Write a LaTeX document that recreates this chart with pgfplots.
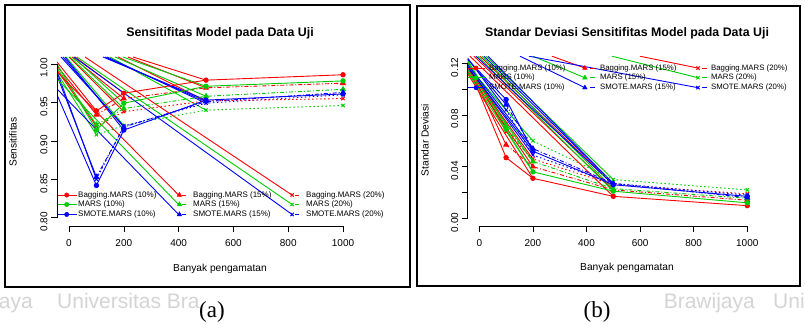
\documentclass[border=0pt]{standalone}
\usepackage{pgfplots}
\pgfplotsset{compat=1.18}
\usepackage{fontspec}
\setmainfont{Liberation Sans}
\newfontfamily\capfont{Liberation Serif}
\definecolor{rred}{RGB}{255,0,0}
\definecolor{rgreen}{RGB}{0,205,0}
\definecolor{rblue}{RGB}{0,0,255}
\pgfplotsset{
  s10/.style={solid, line width=0.9pt, mark=*, mark size=2.2pt},
  s15/.style={line width=0.9pt, dash pattern=on 4pt off 2pt on 1pt off 2pt, mark=triangle*, mark size=2.7pt, mark options={solid}},
  s20/.style={line width=0.9pt, dash pattern=on 1.5pt off 2.5pt, mark=x, mark size=2.3pt, mark options={solid, line width=1pt}},
  diag/.style={solid, line width=0.9pt, no marks},
  rstyle/.style={scale only axis, anchor=south west, clip mode=individual,
    axis line style={draw=none}, tick align=outside, major tick length=6pt,
    tick style={black, line width=0.6pt}, xtick pos=bottom, ytick pos=left,
    xtick={0,200,400,600,800,1000}, xticklabels={0,200,400,600,800,1000},
    xticklabel style={font=\fontsize{10}{12}\selectfont, yshift=-4pt},
    yticklabel style={font=\fontsize{10}{12}\selectfont, rotate=90, anchor=south, xshift=-4pt},
    minor tick num=0},
}
\newcommand{\seg}[5]{\addplot[diag,#1] coordinates {(#2,#3)(#4,#5)};}
\begin{document}
\begin{tikzpicture}[x=1pt,y=1pt]
\path[use as bounding box] (0,0) rectangle (805,324);
% watermark
\begin{scope}[every node/.style={text=black!17, font=\fontsize{21}{21}\selectfont, inner sep=0}]
\node[anchor=base east] at (33,16) {aya};
\node[anchor=base west] at (57,16) {Universitas Bra};
\node[anchor=base east] at (755,16) {Brawijaya};
\node[anchor=base west] at (773,16) {Uni};
\end{scope}

% ---------------- panel (a)
\begin{axis}[rstyle, at={(57pt,98pt)}, width=297pt, height=169pt,
  xmin=-43.8, xmax=1040, ymin=0.7892, ymax=1.0091,
  ytick={0.80,0.85,0.90,0.95,1.00}, yticklabels={0.80,0.85,0.90,0.95,1.00}]
% artefact lines to the points at 100
\seg{rred}{-43.8}{1.0026}{100}{0.939}
\seg{rred}{-43.8}{0.9974}{100}{0.934}
\seg{rred}{-43.8}{0.9922}{100}{0.919}
\seg{rgreen}{-43.8}{1.000}{100}{0.914}
\seg{rgreen}{-43.8}{0.9948}{100}{0.921}
\seg{rgreen}{-43.8}{0.9883}{100}{0.908}
\seg{rblue}{-43.8}{0.960}{100}{0.842}
\seg{rblue}{-43.8}{0.985}{100}{0.853}
\seg{rblue}{-43.8}{0.990}{100}{0.850}
% to the points at 200
\seg{rred}{21.9}{1.0091}{200}{0.962}
\seg{rred}{10.9}{1.0091}{200}{0.955}
\seg{rred}{0}{1.0091}{200}{0.938}
\seg{rgreen}{14.6}{1.0091}{200}{0.949}
\seg{rgreen}{3.6}{1.0091}{200}{0.942}
\seg{rgreen}{-11}{1.0091}{200}{0.920}
\seg{rblue}{-14.6}{1.0091}{200}{0.914}
\seg{rblue}{-21.9}{1.0091}{200}{0.918}
\seg{rblue}{-29.2}{1.0091}{200}{0.919}
% to the points at 500
\seg{rred}{233.6}{1.0091}{500}{0.979}
\seg{rred}{215}{1.0091}{500}{0.969}
\seg{rred}{179}{1.0091}{500}{0.952}
\seg{rgreen}{197}{1.0091}{500}{0.971}
\seg{rgreen}{168}{1.0091}{500}{0.958}
\seg{rgreen}{150}{1.0091}{500}{0.940}
\seg{rblue}{124}{1.0091}{500}{0.953}
\seg{rblue}{131}{1.0091}{500}{0.951}
\seg{rblue}{139}{1.0091}{500}{0.949}
% to the legend
\seg{rred}{-43.8}{0.9896}{400}{0.8295}
\seg{rgreen}{-43.8}{0.9805}{400}{0.8172}
\seg{rblue}{-43.8}{0.9675}{400}{0.8042}
\seg{rred}{58.4}{1.0091}{814}{0.8295}
\seg{rgreen}{29.2}{1.0091}{814}{0.8172}
\seg{rblue}{18.2}{1.0091}{814}{0.8042}
% series
\addplot[rred,s10] coordinates {(100,0.939)(200,0.962)(500,0.979)(1000,0.986)};
\addplot[rred,s15] coordinates {(100,0.934)(200,0.955)(500,0.969)(1000,0.975)};
\addplot[rred,s20] coordinates {(100,0.919)(200,0.938)(500,0.952)(1000,0.955)};
\addplot[rgreen,s10] coordinates {(100,0.914)(200,0.949)(500,0.971)(1000,0.978)};
\addplot[rgreen,s15] coordinates {(100,0.921)(200,0.942)(500,0.958)(1000,0.967)};
\addplot[rgreen,s20] coordinates {(100,0.908)(200,0.920)(500,0.940)(1000,0.946)};
\addplot[rblue,s10] coordinates {(100,0.842)(200,0.914)(500,0.953)(1000,0.961)};
\addplot[rblue,s15] coordinates {(100,0.853)(200,0.918)(500,0.951)(1000,0.963)};
\addplot[rblue,s20] coordinates {(100,0.850)(200,0.919)(500,0.949)(1000,0.960)};
% legend
\addplot[rred,diag] coordinates {(-40,0.8295)(29,0.8295)};
\addplot[rgreen,diag] coordinates {(-40,0.8172)(29,0.8172)};
\addplot[rblue,diag] coordinates {(-40,0.8042)(29,0.8042)};
\addplot[rred,only marks,mark=*,mark size=2.2pt] coordinates {(-8.4,0.8295)};
\addplot[rgreen,only marks,mark=*,mark size=2.2pt] coordinates {(-8.4,0.8172)};
\addplot[rblue,only marks,mark=*,mark size=2.2pt] coordinates {(-8.4,0.8042)};
\addplot[rred,only marks,mark=triangle*,mark size=2.7pt] coordinates {(403,0.8295)};
\addplot[rgreen,only marks,mark=triangle*,mark size=2.7pt] coordinates {(403,0.8172)};
\addplot[rblue,only marks,mark=triangle*,mark size=2.7pt] coordinates {(403,0.8042)};
\addplot[rred,diag] coordinates {(414,0.8295)(427,0.8295)};
\addplot[rgreen,diag] coordinates {(414,0.8172)(427,0.8172)};
\addplot[rblue,diag] coordinates {(414,0.8042)(427,0.8042)};
\addplot[rred,only marks,mark=x,mark size=2.3pt,mark options={line width=1pt}] coordinates {(814,0.8295)};
\addplot[rgreen,only marks,mark=x,mark size=2.3pt,mark options={line width=1pt}] coordinates {(814,0.8172)};
\addplot[rblue,only marks,mark=x,mark size=2.3pt,mark options={line width=1pt}] coordinates {(814,0.8042)};
\addplot[rred,diag] coordinates {(826,0.8295)(839,0.8295)};
\addplot[rgreen,diag] coordinates {(826,0.8172)(839,0.8172)};
\addplot[rblue,diag] coordinates {(826,0.8042)(839,0.8042)};
\begin{scope}[every node/.style={anchor=west, inner sep=0, font=\fontsize{8}{9}\selectfont}]
\node at (axis cs:32.8,0.8295) {Bagging.MARS (10\%)};
\node at (axis cs:32.8,0.8172) {MARS (10\%)};
\node at (axis cs:32.8,0.8042) {SMOTE.MARS (10\%)};
\node at (axis cs:452.6,0.8295) {Bagging.MARS (15\%)};
\node at (axis cs:452.6,0.8172) {MARS (15\%)};
\node at (axis cs:452.6,0.8042) {SMOTE.MARS (15\%)};
\node at (axis cs:865,0.8295) {Bagging.MARS (20\%)};
\node at (axis cs:865,0.8172) {MARS (20\%)};
\node at (axis cs:865,0.8042) {SMOTE.MARS (20\%)};
\end{scope}
\draw[line width=0.6pt] (axis cs:0,0.7892) -- (axis cs:1000,0.7892);
\draw[line width=0.6pt] (axis cs:-43.8,0.80) -- (axis cs:-43.8,1.00);
\end{axis}

% ---------------- panel (b)
\begin{axis}[rstyle, at={(467.7pt,98pt)}, width=290.3pt, height=169.8pt,
  xmin=-43.3, xmax=1040, ymin=-0.00596, ymax=0.1256,
  ytick={0,0.02,0.04,0.06,0.08,0.10,0.12}, yticklabels={0.00,,0.04,,0.08,,0.12}]
% artefact lines to the points at 100
\seg{rred}{-43.3}{0.1187}{100}{0.047}
\seg{rred}{-43.3}{0.1195}{100}{0.057}
\seg{rred}{-43.3}{0.121}{100}{0.067}
\seg{rgreen}{-43.3}{0.120}{100}{0.069}
\seg{rgreen}{-43.3}{0.1215}{100}{0.071}
\seg{rgreen}{-43.3}{0.1225}{100}{0.073}
\seg{rblue}{-43.3}{0.123}{100}{0.092}
\seg{rblue}{-43.3}{0.1235}{100}{0.088}
\seg{rblue}{-43.3}{0.124}{100}{0.084}
% to the points at 200
\seg{rred}{-43.3}{0.112}{200}{0.031}
\seg{rred}{-43.3}{0.114}{200}{0.040}
\seg{rred}{-43.3}{0.116}{200}{0.046}
\seg{rgreen}{-43.3}{0.113}{200}{0.036}
\seg{rgreen}{-43.3}{0.115}{200}{0.044}
\seg{rgreen}{-43.3}{0.118}{200}{0.060}
\seg{rblue}{-43.3}{0.117}{200}{0.052}
\seg{rblue}{-43.3}{0.119}{200}{0.054}
\seg{rblue}{-43.3}{0.1175}{200}{0.049}
% to the points at 500
\seg{rred}{-34.7}{0.1256}{500}{0.017}
\seg{rred}{-19.8}{0.1256}{500}{0.022}
\seg{rred}{2.6}{0.1256}{500}{0.026}
\seg{rgreen}{-4.9}{0.1256}{500}{0.021}
\seg{rgreen}{10.1}{0.1256}{500}{0.023}
\seg{rgreen}{25}{0.1256}{500}{0.030}
\seg{rblue}{-12.3}{0.1256}{500}{0.026}
\seg{rblue}{17.5}{0.1256}{500}{0.027}
\seg{rblue}{32.5}{0.1256}{500}{0.027}
% to the legend
\seg{rred}{271}{0.1256}{394}{0.1164}
\seg{rgreen}{200.2}{0.1256}{394}{0.1089}
\seg{rblue}{151.8}{0.1256}{394}{0.1012}
\seg{rred}{599}{0.1256}{816}{0.1164}
\seg{rgreen}{495}{0.1256}{816}{0.1089}
\seg{rblue}{185.4}{0.1256}{816}{0.1012}
% series
\addplot[rred,s10] coordinates {(100,0.047)(200,0.031)(500,0.017)(1000,0.0098)};
\addplot[rred,s15] coordinates {(100,0.057)(200,0.040)(500,0.022)(1000,0.014)};
\addplot[rred,s20] coordinates {(100,0.067)(200,0.046)(500,0.026)(1000,0.019)};
\addplot[rgreen,s10] coordinates {(100,0.069)(200,0.036)(500,0.021)(1000,0.012)};
\addplot[rgreen,s15] coordinates {(100,0.071)(200,0.044)(500,0.023)(1000,0.0155)};
\addplot[rgreen,s20] coordinates {(100,0.073)(200,0.060)(500,0.030)(1000,0.022)};
\addplot[rblue,s10] coordinates {(100,0.092)(200,0.052)(500,0.026)(1000,0.017)};
\addplot[rblue,s15] coordinates {(100,0.088)(200,0.054)(500,0.027)(1000,0.016)};
\addplot[rblue,s20] coordinates {(100,0.084)(200,0.049)(500,0.027)(1000,0.018)};
% legend
\addplot[rred,diag] coordinates {(-42,0.1164)(21.2,0.1164)};
\addplot[rgreen,diag] coordinates {(-42,0.1089)(21.2,0.1089)};
\addplot[rblue,diag] coordinates {(-42,0.1012)(21.2,0.1012)};
\addplot[rred,only marks,mark=*,mark size=2.2pt] coordinates {(-12.3,0.1164)};
\addplot[rgreen,only marks,mark=*,mark size=2.2pt] coordinates {(-12.3,0.1089)};
\addplot[rblue,only marks,mark=*,mark size=2.2pt] coordinates {(-12.3,0.1012)};
\addplot[rred,only marks,mark=triangle*,mark size=2.7pt] coordinates {(394,0.1164)};
\addplot[rgreen,only marks,mark=triangle*,mark size=2.7pt] coordinates {(394,0.1089)};
\addplot[rblue,only marks,mark=triangle*,mark size=2.7pt] coordinates {(394,0.1012)};
\addplot[rred,diag] coordinates {(413,0.1164)(433,0.1164)};
\addplot[rgreen,diag] coordinates {(413,0.1089)(433,0.1089)};
\addplot[rblue,diag] coordinates {(413,0.1012)(433,0.1012)};
\addplot[rred,only marks,mark=x,mark size=2.3pt,mark options={line width=1pt}] coordinates {(816,0.1164)};
\addplot[rgreen,only marks,mark=x,mark size=2.3pt,mark options={line width=1pt}] coordinates {(816,0.1089)};
\addplot[rblue,only marks,mark=x,mark size=2.3pt,mark options={line width=1pt}] coordinates {(816,0.1012)};
\addplot[rred,diag] coordinates {(831,0.1164)(851,0.1164)};
\addplot[rgreen,diag] coordinates {(831,0.1089)(851,0.1089)};
\addplot[rblue,diag] coordinates {(831,0.1012)(851,0.1012)};
\begin{scope}[every node/.style={anchor=west, inner sep=0, font=\fontsize{7.8}{9}\selectfont}]
\node at (axis cs:36.1,0.1164) {Bagging.MARS (10\%)};
\node at (axis cs:36.1,0.1089) {MARS (10\%)};
\node at (axis cs:36.1,0.1012) {SMOTE.MARS (10\%)};
\node at (axis cs:450.4,0.1164) {Bagging.MARS (15\%)};
\node at (axis cs:450.4,0.1089) {MARS (15\%)};
\node at (axis cs:450.4,0.1012) {SMOTE.MARS (15\%)};
\node at (axis cs:864.6,0.1164) {Bagging.MARS (20\%)};
\node at (axis cs:864.6,0.1089) {MARS (20\%)};
\node at (axis cs:864.6,0.1012) {SMOTE.MARS (20\%)};
\end{scope}
\draw[line width=0.6pt] (axis cs:0,-0.00596) -- (axis cs:1000,-0.00596);
\draw[line width=0.6pt] (axis cs:-43.3,0) -- (axis cs:-43.3,0.12);
\end{axis}

% titles and labels
\node[font=\bfseries\fontsize{12.4}{14}\selectfont] at (220,291) {Sensitifitas Model pada Data Uji};
\node[font=\bfseries\fontsize{12.4}{14}\selectfont] at (627,291) {Standar Deviasi Sensitifitas Model pada Data Uji};
\node[font=\fontsize{10.2}{12}\selectfont] at (220,55) {Banyak pengamatan};
\node[font=\fontsize{10.2}{12}\selectfont] at (627,56) {Banyak pengamatan};
\node[font=\fontsize{10.2}{12}\selectfont, rotate=90] at (13,182) {Sensitifitas};
\node[font=\fontsize{10.2}{12}\selectfont, rotate=90] at (425,184) {Standar Deviasi};
% panel frames
\draw[line width=2.4pt] (5,37) rectangle (410,319);
\draw[line width=1.5pt] (417,38) rectangle (800,318);
% sub-captions
\node[font=\capfont\fontsize{23}{23}\selectfont] at (212,12) {(a)};
\node[font=\capfont\fontsize{23}{23}\selectfont] at (597,12) {(b)};
\end{tikzpicture}
\end{document}
